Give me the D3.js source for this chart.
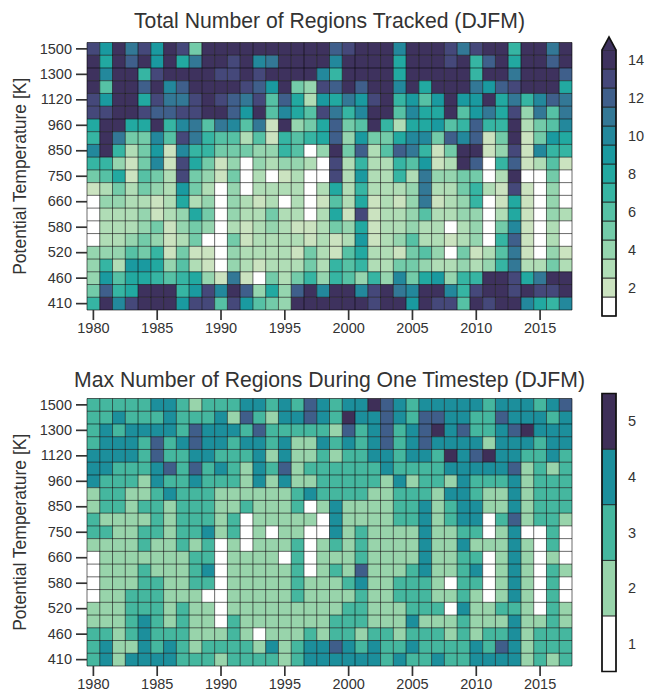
<!DOCTYPE html>
<html>
<head>
<meta charset="utf-8">
<script src="https://cdn.jsdelivr.net/npm/d3@7"></script>
<style>
  html, body { margin: 0; padding: 0; background: #fff; }
  svg { display: block; }
  text { font-family: "Liberation Sans", Arial, Helvetica, sans-serif; fill: #333; }
</style>
</head>
<body>
<svg id="fig" width="649" height="694"></svg>
<script>
// ---- data -------------------------------------------------------------
const years = d3.range(1980, 2018);
// potential-temperature levels, top row first
const levels = [1500, 1400, 1300, 1200, 1120, 1040, 960, 900, 850, 800, 750,
                700, 660, 620, 580, 550, 520, 490, 460, 435, 410];
const levelTicks = [1500, 1300, 1120, 960, 850, 750, 660, 580, 520, 460, 410];
const yearTicks = [1980, 1985, 1990, 1995, 2000, 2005, 2010, 2015];

// total number of regions tracked, one row per level (1980 … 2017)
const totalRegions = [
  [13,9,14,11,13,9,14,13,5,14,14,14,14,14,14,14,14,14,14, 12,13,14,14,14,10,14,14,14,13,11,13,14,14,7,14,14,11,14],
  [14,8,14,12,14,9,14,8,11,14,14,13,14,10,11,14,14,14,14, 10,14,14,14,14,8,14,14,14,13,14,7,12,14,8,14,14,12,14],
  [14,10,14,14,7,13,14,14,14,14,13,13,14,13,14,14,14,14,10, 7,14,14,14,14,8,14,14,14,14,14,7,14,14,11,14,14,14,12],
  [14,6,14,14,12,14,10,12,14,14,14,14,13,12,9,14,5,4,13, 12,14,12,14,14,10,14,8,14,14,14,11,9,12,13,14,14,14,8],
  [13,9,14,14,8,13,11,11,13,14,13,12,11,13,6,12,8,3,9, 8,11,9,13,14,7,9,6,9,14,9,9,14,8,11,7,10,12,11],
  [13,13,14,14,13,12,12,13,13,14,14,12,9,14,6,10,8,6,13, 11,7,10,14,14,6,10,8,8,14,6,9,11,8,13,4,11,6,11],
  [8,14,14,8,8,14,7,10,11,6,11,10,6,11,2,14,4,5,8, 12,5,6,14,7,3,8,8,9,6,7,12,7,7,14,3,5,6,10],
  [7,14,11,5,5,10,6,13,11,7,6,6,3,6,2,7,6,7,8, 12,4,9,5,5,8,10,10,5,12,10,12,2,5,14,2,5,9,8],
  [10,14,7,3,5,9,2,10,7,7,5,5,5,4,4,7,6,1,4, 14,5,12,3,6,12,11,7,2,5,14,14,2,4,13,2,10,7,7],
  [7,7,4,2,5,10,2,13,8,5,2,4,1,4,3,4,4,3,1, 13,3,7,3,3,7,6,9,2,3,14,12,1,7,12,2,3,6,2],
  [5,6,8,2,6,5,3,13,5,4,2,5,1,3,1,2,3,1,1, 13,3,9,3,3,7,3,11,4,4,5,5,1,3,14,1,1,5,1],
  [2,3,5,3,5,4,3,9,5,3,1,4,1,3,3,3,3,1,3, 8,3,7,3,3,3,4,11,3,3,5,7,3,2,13,2,1,4,1],
  [1,4,4,3,3,2,3,8,3,4,1,4,3,2,3,1,3,1,2, 6,3,8,2,3,2,4,11,2,3,4,7,1,2,8,2,1,4,1],
  [1,3,3,3,4,2,3,4,8,5,1,4,3,3,5,3,3,1,3, 8,2,13,2,3,3,4,6,3,3,4,4,1,3,8,2,1,4,3],
  [1,3,3,3,4,5,2,4,5,4,1,3,2,3,4,3,2,2,3, 5,4,8,2,3,3,4,3,3,1,3,4,1,5,10,2,1,3,1],
  [1,3,3,4,5,4,2,3,5,1,1,5,2,3,3,3,3,2,3, 2,3,9,2,3,4,6,3,3,2,3,4,1,7,12,2,1,3,1],
  [4,4,4,6,5,7,2,5,2,2,1,4,3,3,3,3,2,5,3, 2,6,8,3,3,2,5,6,4,1,5,2,3,6,11,2,1,4,2],
  [4,7,3,9,9,8,4,6,3,2,1,4,3,2,3,3,3,5,3, 7,6,7,3,3,5,5,4,3,3,4,3,4,7,11,3,3,5,3],
  [4,9,6,8,8,7,6,7,8,4,2,11,2,1,5,3,5,7,4, 7,6,4,7,4,10,5,8,9,4,7,7,14,14,13,8,11,14,14],
  [5,12,7,8,14,14,14,7,9,13,10,14,12,4,8,4,12,14,10, 14,14,10,13,14,11,10,14,14,10,7,13,14,14,13,14,13,13,14],
  [7,14,10,13,14,14,14,9,13,13,6,13,9,6,5,4,14,14,14, 14,14,14,13,14,14,9,14,13,13,6,14,13,14,14,10,8,7,10]
];

// max number of regions during one timestep, same layout
const maxRegions = [
  [3,3,3,3,3,4,4,3,2,3,3,3,4,4,3,4,3,5,4, 3,4,4,6,5,4,3,4,4,4,4,4,3,4,4,4,3,4,5],
  [3,3,4,3,3,3,4,3,3,3,4,2,5,3,2,4,4,5,4, 3,6,4,4,5,4,3,5,5,4,4,3,3,5,4,4,4,3,4],
  [3,4,3,4,4,4,4,3,5,4,4,4,3,5,3,3,3,3,3, 2,5,3,4,5,3,4,5,6,4,5,3,3,4,5,6,4,4,4],
  [3,4,4,4,3,5,3,4,5,4,4,3,4,4,3,4,2,2,4, 3,4,3,4,5,3,4,5,4,4,4,4,2,4,4,4,3,4,4],
  [4,4,4,4,3,5,3,3,4,4,3,3,3,4,2,4,2,2,3, 2,3,3,4,4,3,4,4,3,6,4,5,6,4,4,3,3,4,3],
  [4,4,3,3,3,4,5,3,5,3,4,3,2,4,3,5,2,3,3, 3,3,3,3,4,3,3,3,3,4,4,4,4,4,5,2,3,2,3],
  [4,3,3,3,2,4,3,3,4,3,3,3,2,4,2,4,2,2,3, 3,3,3,3,2,4,2,3,3,2,4,3,3,3,4,2,3,3,3],
  [2,3,3,2,2,3,4,3,3,3,2,2,2,2,2,2,3,4,3, 3,3,3,2,2,3,3,3,2,4,4,3,2,2,4,2,3,3,3],
  [2,3,3,2,3,3,2,3,3,3,2,2,3,2,2,2,3,1,2, 4,2,2,2,2,3,3,4,2,3,4,4,2,2,4,2,3,3,3],
  [3,2,2,2,2,3,2,3,3,3,2,3,1,2,2,2,2,2,1, 4,2,2,2,2,3,3,4,2,3,4,4,1,3,5,2,3,3,2],
  [3,3,2,2,3,3,2,3,3,4,2,3,1,2,1,2,2,1,1, 4,2,3,2,2,2,2,4,2,2,3,3,1,2,4,1,1,3,1],
  [2,2,2,2,3,2,2,3,2,3,1,2,1,2,2,2,3,1,2, 3,2,3,2,2,2,2,4,2,2,4,2,2,2,4,2,1,3,1],
  [1,2,2,2,2,2,2,2,3,3,1,2,2,2,2,1,3,1,2, 2,2,3,2,2,2,2,4,2,2,3,3,1,2,4,2,1,2,1],
  [1,2,2,2,3,2,2,2,3,4,1,2,2,2,2,2,3,1,2, 3,2,5,2,2,2,3,4,2,2,3,4,1,2,4,2,1,3,2],
  [1,2,2,2,3,3,2,2,3,3,1,2,2,2,2,2,3,2,2, 2,3,4,2,2,3,3,3,2,1,3,3,1,2,4,2,1,3,1],
  [1,2,2,3,3,3,2,2,2,1,1,2,2,2,2,2,3,2,2, 2,2,3,2,2,3,3,3,2,2,3,2,1,2,4,2,1,3,1],
  [2,2,2,3,3,3,2,3,2,2,1,2,2,2,2,2,2,2,2, 2,3,3,2,2,2,3,3,3,1,4,2,2,3,3,2,1,3,2],
  [2,2,2,3,4,3,2,3,2,2,1,3,2,2,2,2,2,2,2, 3,3,3,2,2,2,4,2,2,2,3,2,2,2,4,2,2,3,2],
  [3,3,2,3,4,3,3,3,2,2,2,3,2,1,2,2,2,3,2, 3,3,2,3,3,2,3,3,3,2,3,2,3,3,4,2,3,3,3],
  [3,4,2,2,4,3,4,3,2,3,3,3,3,2,4,2,3,4,4, 5,4,3,4,3,3,4,3,3,3,3,4,3,5,4,2,3,3,3],
  [3,4,2,4,4,4,4,3,3,3,2,3,3,3,3,2,3,4,4, 4,4,4,4,3,4,3,3,4,3,3,4,4,4,4,2,3,2,3]
];

// colour levels
const totalLevels = d3.range(1, 15);            // 1 … 14 (14 = "14 or more")
const totalTicks = [2, 4, 6, 8, 10, 12, 14];
const totalColors = ["#ffffff", "#cbe3c0", "#b0ddb6", "#95d5af", "#73cba9", "#56c1a5",
                     "#36b5a3", "#22a9a1", "#1a9aa0", "#23889c", "#337896", "#3f5f8b",
                     "#45487a", "#3e325e"];
const maxLevels = [1, 2, 3, 4, 5];
const maxColors = ["#ffffff", "#98d4ab", "#45b79f", "#1c8f9c", "#3f5e8a", "#3e2f58"];
const maxBarColors = ["#ffffff", "#98d4ab", "#45b79f", "#1c8f9c", "#3e2f58"];

// ---- layout -----------------------------------------------------------
const svg = d3.select("#fig");
const gridX = [87, 572];
const cbX = [602, 616];

const x = d3.scaleBand().domain(years).range(gridX).padding(0);

const totalColor = d3.scaleThreshold()
  .domain(totalLevels.slice(0, -1).map(v => v + 0.5))
  .range(totalColors);
const maxColor = d3.scaleThreshold()
  .domain([1.5, 2.5, 3.5, 4.5, 5.5])
  .range(maxColors);

function heatmap(opts) {
  const g = svg.append("g");
  const y = d3.scaleBand().domain(levels).range(opts.yRange).padding(0);

  const cells = [];
  opts.values.forEach((row, i) => row.forEach((v, j) =>
    cells.push({ level: levels[i], year: years[j], value: v })));

  g.append("g").selectAll("rect").data(cells).join("rect")
    .attr("x", d => x(d.year))
    .attr("y", d => y(d.level))
    .attr("width", x.bandwidth())
    .attr("height", y.bandwidth())
    .attr("fill", d => opts.color(d.value));

  // cell edges (semi-transparent, drawn once per boundary)
  const edges = g.append("g")
    .attr("stroke", "#000").attr("stroke-opacity", 0.58).attr("stroke-width", 1);
  const xs = years.map(t => x(t)).concat([gridX[1]]);
  const ys = levels.map(l => y(l)).concat([opts.yRange[1]]);
  edges.selectAll("line.v").data(xs).join("line").attr("class", "v")
    .attr("x1", d => d).attr("x2", d => d)
    .attr("y1", opts.yRange[0]).attr("y2", opts.yRange[1]);
  edges.selectAll("line.h").data(ys).join("line").attr("class", "h")
    .attr("y1", d => d).attr("y2", d => d)
    .attr("x1", gridX[0]).attr("x2", gridX[1]);

  // axes
  const yAxis = g.append("g").attr("transform", `translate(${gridX[0]},0)`)
    .call(d3.axisLeft(y).tickValues(levelTicks).tickSize(11).tickPadding(4));
  const xAxis = g.append("g").attr("transform", `translate(0,${opts.yRange[1]})`)
    .call(d3.axisBottom(x).tickValues(yearTicks).tickSize(10).tickPadding(3));
  [yAxis, xAxis].forEach(a => {
    a.select(".domain").remove();
    a.selectAll(".tick line").attr("stroke", "#333").attr("stroke-width", 1.7);
    a.selectAll(".tick text").attr("fill", "#333")
      .style("font-size", "14.5px")
      .style("font-family", "'Liberation Sans', Arial, Helvetica, sans-serif");
  });

  g.append("text")
    .attr("x", (gridX[0] + gridX[1]) / 2).attr("y", opts.titleY)
    .attr("text-anchor", "middle").style("font-size", "21.2px")
    .text(opts.title);

  g.append("text")
    .attr("transform", `translate(26,${(opts.yRange[0] + opts.yRange[1]) / 2}) rotate(-90)`)
    .attr("text-anchor", "middle").style("font-size", "17.5px")
    .text("Potential Temperature [K]");
}

function colorbar(opts) {
  const g = svg.append("g");
  const cy = d3.scaleBand().domain(opts.levels).range([opts.bottom, opts.top]).padding(0);
  g.selectAll("rect").data(opts.levels).join("rect")
    .attr("x", cbX[0]).attr("width", cbX[1] - cbX[0])
    .attr("y", d => cy(d)).attr("height", cy.bandwidth())
    .attr("fill", (d, i) => opts.colors[i])
    .attr("stroke", "#222").attr("stroke-width", 0.8);

  let outline = `M${cbX[0]},${opts.bottom}L${cbX[1]},${opts.bottom}L${cbX[1]},${opts.top}`;
  if (opts.arrow) {
    g.append("path")
      .attr("d", `M${cbX[0]},${opts.top}L${(cbX[0] + cbX[1]) / 2},${opts.top - opts.arrow}L${cbX[1]},${opts.top}Z`)
      .attr("fill", opts.colors[opts.colors.length - 1]);
    outline += `L${(cbX[0] + cbX[1]) / 2},${opts.top - opts.arrow}`;
  }
  outline += `L${cbX[0]},${opts.top}Z`;
  g.append("path").attr("d", outline).attr("fill", "none")
    .attr("stroke", "#111").attr("stroke-width", 1.6);

  g.selectAll("text").data(opts.ticks).join("text")
    .attr("x", 628).attr("y", d => cy(d) + cy.bandwidth() / 2)
    .attr("dy", "0.35em").style("font-size", "14.5px")
    .text(d => d);
}

heatmap({ values: totalRegions, color: totalColor, yRange: [42.5, 310],
          titleY: 28, title: "Total Number of Regions Tracked (DJFM)" });
heatmap({ values: maxRegions, color: maxColor, yRange: [398.5, 666],
          titleY: 387, title: "Max Number of Regions During One Timestep (DJFM)" });

colorbar({ levels: totalLevels, colors: totalColors, ticks: totalTicks,
           top: 50, bottom: 316, arrow: 13 });
colorbar({ levels: maxLevels, colors: maxBarColors, ticks: maxLevels,
           top: 393.5, bottom: 671.5, arrow: 0 });
</script>
</body>
</html>
